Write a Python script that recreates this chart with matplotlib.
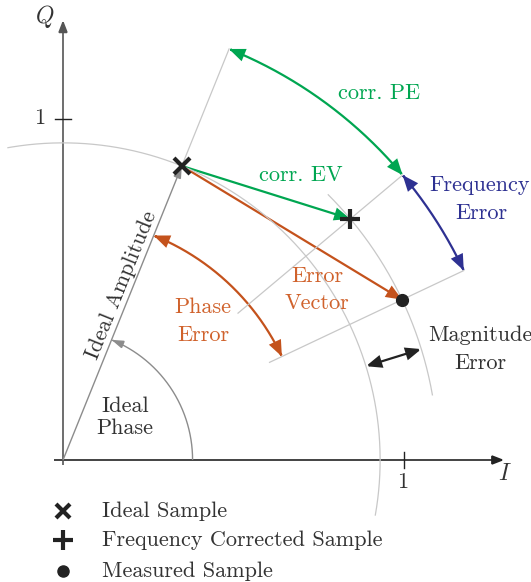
import numpy as np
import matplotlib
matplotlib.use('Agg')
import matplotlib.pyplot as plt
from matplotlib.patches import FancyArrowPatch
from matplotlib.path import Path

# ---- data (magnitudes in units of the I/Q axes, phases in degrees) ----
ideal_mag = 0.93
ideal_phase = 68.0
meas_mag = 1.10
meas_phase = 25.3
corr_phase = 40.0          # frequency corrected sample phase (same magnitude as measured)
outer_r = 1.30             # radius of the corr. PE / frequency error arcs
inner_r = 0.67             # start radius of guide rays
phase_err_r = 0.71
ideal_phase_r = 0.38
mag_err_phase = 17.2
ideal_circle_span = (-10.0, 100.0)
meas_circle_span = (10.0, 45.0)
tick_value = 1.0
legend_labels = ['Ideal Sample', 'Frequency Corrected Sample', 'Measured Sample']

plt.rcParams['font.family'] = ['cmr10', 'DejaVu Serif']
plt.rcParams['mathtext.fontset'] = 'cm'
plt.rcParams['axes.formatter.use_mathtext'] = True

FS = 16
S = 341.0
fig = plt.figure(figsize=(5.31, 5.82), dpi=100)
ax = fig.add_axes([0, 0, 1, 1])
ax.set_xlim(-63 / S, 468 / S)
ax.set_ylim(-122 / S, 460 / S)
ax.set_aspect('equal')
ax.axis('off')


def P(px, py):
    return ((px - 63) / S, (460 - py) / S)


def pol(r, a):
    t = np.radians(a)
    return np.array([r * np.cos(t), r * np.sin(t)])


def arc(r, a0, a1, n=150):
    t = np.radians(np.linspace(a0, a1, n))
    return np.column_stack([r * np.cos(t), r * np.sin(t)])


def arrow(pts, style, color, lw, ms=8):
    p = FancyArrowPatch(path=Path(pts), arrowstyle=style, color=color,
                        lw=lw, mutation_scale=ms, joinstyle='miter', capstyle='butt')
    ax.add_patch(p)


LG = '#c8c8c8'
GREEN = '#00a651'
ORANGE = '#c4521c'
ORANGE_T = '#d0622c'
BLUE = '#2e3192'
DARK = '#222222'
TXT = '#333333'

# ---- light gray guides ----
a = arc(ideal_mag, *ideal_circle_span)
ax.plot(a[:, 0], a[:, 1], color=LG, lw=0.9)
a = arc(meas_mag, *meas_circle_span)
ax.plot(a[:, 0], a[:, 1], color=LG, lw=0.9)
for ang, r0 in [(corr_phase, inner_r), (meas_phase, inner_r), (ideal_phase, ideal_mag)]:
    p0, p1 = pol(r0, ang), pol(outer_r, ang)
    ax.plot([p0[0], p1[0]], [p0[1], p1[1]], color=LG, lw=0.9)

# ---- axes ----
hs = '-|>,head_length=0.9,head_width=0.35'
arrow(np.array([[-0.025, 0], [1.294, 0]]), hs, DARK, 1.2)
arrow(np.array([[0, -0.015], [0, 1.29]]), hs, '#555555', 1.2)
ax.plot([tick_value, tick_value], [-0.022, 0.022], color=DARK, lw=1.0)
ax.plot([-0.024, 0.022], [tick_value, tick_value], color=DARK, lw=1.0)
ax.text(*P(40, 118), '1', ha='center', va='center', fontsize=FS, color=TXT)
ax.text(*P(403, 482), '1', ha='center', va='center', fontsize=FS, color=TXT)
ax.text(*P(45, 16), r'$Q$', ha='center', va='center', fontsize=17, color=TXT)
ax.text(*P(505, 474), r'$I$', ha='center', va='center', fontsize=17, color=TXT)

# ---- ideal amplitude & phase ----
ideal = pol(ideal_mag, ideal_phase)
meas = pol(meas_mag, meas_phase)
corr = pol(meas_mag, corr_phase)
arrow(np.array([[0, 0], ideal]), '-|>,head_length=0.9,head_width=0.3', '#8c8c8c', 1.0)
arrow(arc(ideal_phase_r, 0, ideal_phase), '-|>,head_length=0.9,head_width=0.3', '#8c8c8c', 1.0)
mid = pol(0.54, ideal_phase) + 0.032 * np.array([-np.sin(np.radians(ideal_phase)), np.cos(np.radians(ideal_phase))])
ax.text(mid[0], mid[1], 'Ideal Amplitude', rotation=ideal_phase, rotation_mode='anchor',
        ha='center', va='center', fontsize=FS, color=TXT)
ax.text(*P(125, 406), 'Ideal', ha='center', va='center', fontsize=FS, color=TXT)
ax.text(*P(125, 428), 'Phase', ha='center', va='center', fontsize=FS, color=TXT)

# ---- error arrows ----
ch = '-|>,head_length=1.1,head_width=0.45'
dh = '<|-|>,head_length=1.1,head_width=0.45'
arrow(np.array([ideal, corr]), ch, GREEN, 1.6)
arrow(np.array([ideal, meas]), ch, ORANGE, 1.6)
arrow(arc(outer_r, ideal_phase, corr_phase), dh, GREEN, 1.6)
arrow(arc(outer_r, corr_phase, meas_phase), dh, BLUE, 1.6)
arrow(arc(phase_err_r, ideal_phase, meas_phase), dh, ORANGE, 1.6)
arrow(np.array([pol(ideal_mag, mag_err_phase), pol(meas_mag, mag_err_phase)]), dh, DARK, 1.6)

# ---- samples ----
ax.plot(*ideal, marker='x', ms=11, mew=3.0, color=DARK, zorder=5)
ax.plot(*corr, marker='+', ms=15, mew=3.0, color=DARK, zorder=5)
ax.plot(*meas, marker='o', ms=8.5, color=DARK, zorder=5)

# ---- labels ----
ax.text(*P(379, 93), 'corr. PE', ha='center', va='center', fontsize=FS, color=GREEN)
ax.text(*P(301, 175), 'corr. EV', ha='center', va='center', fontsize=FS, color=GREEN)
ax.text(*P(480, 185), 'Frequency', ha='center', va='center', fontsize=FS, color=BLUE)
ax.text(*P(481, 213), 'Error', ha='center', va='center', fontsize=FS, color=BLUE)
ax.text(*P(317, 276), 'Error', ha='center', va='center', fontsize=FS, color=ORANGE_T)
ax.text(*P(317, 303), 'Vector', ha='center', va='center', fontsize=FS, color=ORANGE_T)
ax.text(*P(203, 307), 'Phase', ha='center', va='center', fontsize=FS, color=ORANGE_T)
ax.text(*P(203, 335), 'Error', ha='center', va='center', fontsize=FS, color=ORANGE_T)
ax.text(*P(480, 335), 'Magnitude', ha='center', va='center', fontsize=FS, color=TXT)
ax.text(*P(480, 363), 'Error', ha='center', va='center', fontsize=FS, color=TXT)

# ---- legend ----
leg_markers = [dict(marker='x', ms=10, mew=3.0), dict(marker='+', ms=14, mew=3.0), dict(marker='o', ms=8)]
for i, (lab, mk) in enumerate(zip(legend_labels, leg_markers)):
    y = [511, 540, 571][i]
    ax.plot(*P(63, y), color=DARK, **mk)
    ax.text(*P(102, y), lab, ha='left', va='center', fontsize=FS, color=TXT)

fig.savefig('out.png', dpi=100)
